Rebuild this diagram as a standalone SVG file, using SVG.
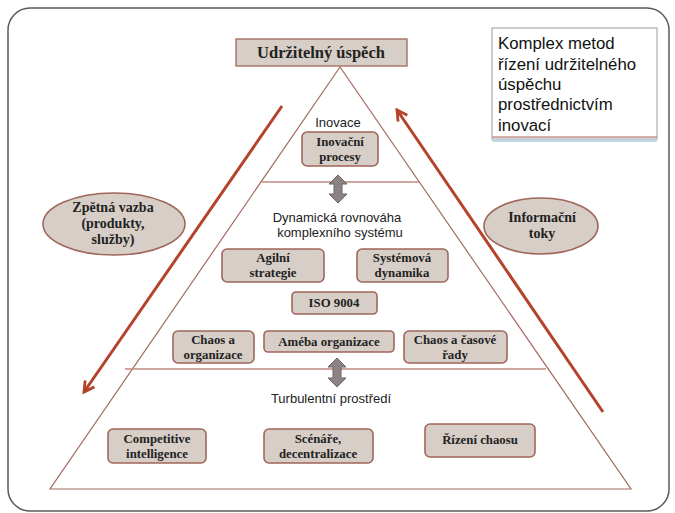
<svg xmlns="http://www.w3.org/2000/svg" width="675" height="513" viewBox="0 0 675 513">
<defs>
<style>
.box{fill:#d6cec7;stroke:#a0665a;stroke-width:1.6}
.nt{font-family:"Liberation Serif","Times New Roman",serif;font-weight:bold;font-size:12.8px;fill:#222;text-anchor:middle}
.ttl{font-size:16.5px}
.el{font-size:14px}
.st{font-family:"Liberation Sans",Arial,sans-serif;font-size:13px;fill:#222;text-anchor:middle}
.red{stroke:#b5432b;stroke-width:3;fill:none}
.dbl{fill:#8c8484;stroke:#6e6464;stroke-width:1}
</style>
<marker id="ah" viewBox="0 0 12 12" refX="10" refY="6" markerWidth="4.5" markerHeight="4.5" orient="auto" markerUnits="strokeWidth">
<path d="M1,1 L10,6 L1,11" fill="none" stroke="#b5432b" stroke-width="2.5"/>
</marker>
</defs>
<rect x="0" y="0" width="675" height="513" fill="#fff"/>
<rect x="8" y="8" width="661" height="503" rx="22" fill="#fff" stroke="#5a5a5a" stroke-width="1.5"/>

<g id="pyramid">
<polygon points="340,67 50,489 631,489" fill="none" stroke="#a46a62" stroke-width="1.2"/>
<line x1="262" y1="182" x2="419" y2="182" stroke="#c08a7e" stroke-width="1.5"/>
<line x1="125" y1="369" x2="546" y2="369" stroke="#c08a7e" stroke-width="1.5"/>
</g>

<g id="connectors">
<line class="red" x1="282" y1="106" x2="84" y2="392" marker-end="url(#ah)"/>
<line class="red" x1="603" y1="412" x2="397" y2="110" marker-end="url(#ah)"/>
<path class="dbl" d="M338,175 L347,184 L342,184 L342,194 L347,194 L338,203 L329,194 L334,194 L334,184 L329,184 Z"/>
<path class="dbl" d="M337,358 L346,367 L341,367 L341,378 L346,378 L337,387 L328,378 L333,378 L333,367 L328,367 Z"/>
</g>

<g id="title">
<rect x="236" y="39" width="171" height="27" fill="#d6cec7" stroke="#a0665a" stroke-width="1.3"/>
<text x="321" y="58" class="nt ttl">Udržitelný úspěch</text>
</g>

<g id="note">
<rect x="492" y="28" width="165" height="111" fill="#fff" stroke="#a6adb5" stroke-width="1.2"/>
<line x1="492" y1="137" x2="657" y2="137" stroke="#c89090" stroke-width="1.5"/>
<line x1="492" y1="141" x2="657" y2="141" stroke="#a8cce0" stroke-width="1.5"/>
<text font-family="'Liberation Sans',Arial,sans-serif" font-size="16.8" fill="#111">
<tspan x="498" y="49">Komplex metod</tspan>
<tspan x="498" y="70">řízení udržitelného</tspan>
<tspan x="498" y="90">úspěchu</tspan>
<tspan x="498" y="110">prostřednictvím</tspan>
<tspan x="498" y="131">inovací</tspan>
</text>
</g>

<g id="inovace-label"><text x="338" y="127" class="st">Inovace</text></g>
<g id="inovacni-procesy">
<rect class="box" x="302" y="132" width="76" height="34" rx="5"/>
<text class="nt" x="340" y="146">Inovační</text>
<text class="nt" x="340" y="161">procesy</text>
</g>

<g id="dynamicka-label">
<text x="337" y="222" class="st">Dynamická rovnováha</text>
<text x="340" y="237" class="st">komplexního systému</text>
</g>

<g id="agilni">
<rect class="box" x="222" y="249" width="102" height="33" rx="5"/>
<text class="nt" x="273" y="262">Agilní</text>
<text class="nt" x="273" y="277">strategie</text>
</g>
<g id="systemova">
<rect class="box" x="357" y="249" width="91" height="33" rx="5"/>
<text class="nt" x="402" y="262">Systémová</text>
<text class="nt" x="402" y="277">dynamika</text>
</g>
<g id="iso">
<rect class="box" x="292" y="292" width="85" height="22" rx="4"/>
<text class="nt" x="334" y="307">ISO 9004</text>
</g>
<g id="chaos-org">
<rect class="box" x="173" y="331" width="81" height="32" rx="5"/>
<text class="nt" x="213" y="344">Chaos a</text>
<text class="nt" x="213" y="359">organizace</text>
</g>
<g id="ameba">
<rect class="box" x="264" y="331" width="130" height="21" rx="4"/>
<text class="nt" x="329" y="346">Améba organizace</text>
</g>
<g id="chaos-rady">
<rect class="box" x="404" y="331" width="103" height="32" rx="5"/>
<text class="nt" x="455" y="344">Chaos a časové</text>
<text class="nt" x="455" y="359">řady</text>
</g>

<g id="turbulentni-label"><text x="331" y="403" class="st">Turbulentní prostředí</text></g>

<g id="competitive">
<rect class="box" x="108" y="429" width="98" height="34" rx="5"/>
<text class="nt" x="157" y="443">Competitive</text>
<text class="nt" x="157" y="458">intelligence</text>
</g>
<g id="scenare">
<rect class="box" x="264" y="429" width="109" height="34" rx="5"/>
<text class="nt" x="318" y="443">Scénáře,</text>
<text class="nt" x="318" y="458">decentralizace</text>
</g>
<g id="rizeni">
<rect class="box" x="425" y="424" width="110" height="33" rx="5"/>
<text class="nt" x="480" y="444">Řízení chaosu</text>
</g>

<g id="zpetna-vazba">
<ellipse class="box" cx="114" cy="224" rx="71" ry="31"/>
<text class="nt el" x="113" y="212">Zpětná vazba</text>
<text class="nt el" x="113" y="228">(produkty,</text>
<text class="nt el" x="113" y="244">služby)</text>
</g>
<g id="informacni-toky">
<ellipse class="box" cx="541" cy="226" rx="57" ry="28"/>
<text class="nt el" x="542" y="222">Informační</text>
<text class="nt el" x="542" y="238">toky</text>
</g>
</svg>
